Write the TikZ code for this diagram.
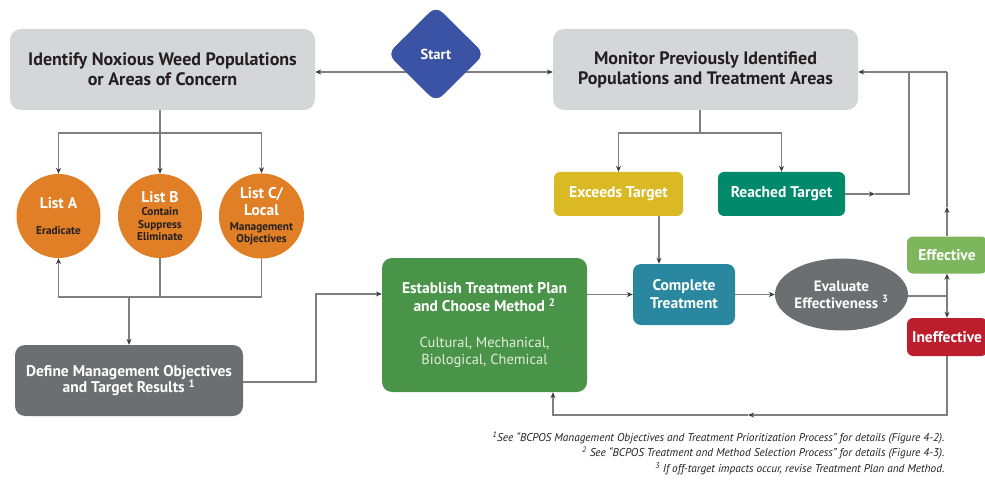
\documentclass[tikz,border=0pt]{standalone}
\usepackage{fontspec}
\setmainfont{PT Sans}
\usetikzlibrary{shapes.geometric, arrows.meta, positioning}

\definecolor{boxgray}{HTML}{D5D6D8}
\definecolor{textdark}{HTML}{231F20}
\definecolor{startblue}{HTML}{3A53A4}
\definecolor{listorange}{HTML}{E07F26}
\definecolor{defgray}{HTML}{6D6E71}
\definecolor{exyellow}{HTML}{DBB925}
\definecolor{reachteal}{HTML}{00896B}
\definecolor{compblue}{HTML}{2A87A0}
\definecolor{estgreen}{HTML}{4A9449}
\definecolor{effgreen}{HTML}{7DB65C}
\definecolor{ineffred}{HTML}{BD1E2D}
\definecolor{linegray}{HTML}{7E7F82}
\definecolor{tipdark}{HTML}{3A3A3C}
\definecolor{subtext}{HTML}{E3EDD9}

\newcommand{\listtitle}[1]{{\color{white}\fontsize{15.5}{16}\selectfont #1}}
\newcommand{\methods}[1]{{\mdseries\color{subtext}\fontsize{14.5}{17}\selectfont #1}}

\begin{document}
\begin{tikzpicture}[x=1pt, y=-1pt,
    flow/.style={draw=linegray, line width=1.1pt},
    arr/.style={flow, -{Stealth[length=6pt, width=5pt, color=tipdark]}},
    twoarr/.style={flow, {Stealth[length=6pt, width=5pt, color=tipdark]}-{Stealth[length=6pt, width=5pt, color=tipdark]}},
    bigbox/.style={rectangle, rounded corners=11pt, fill=boxgray, text=textdark, align=center,
        minimum width=305pt, minimum height=81pt, font=\fontsize{18}{20}\selectfont\bfseries},
    listcircle/.style={circle, fill=listorange, text=textdark, align=center, minimum size=84pt, inner sep=0pt,
        font=\fontsize{11.3}{12.5}\selectfont\bfseries},
    colbox/.style={rectangle, rounded corners=6pt, text=white, align=center, inner sep=0pt,
        font=\fontsize{15.5}{18}\selectfont\bfseries}]

    \useasboundingbox (0,0) rectangle (985,481);

    \node[bigbox] (ident) at (162.5,69.5) {Identify Noxious Weed Populations\\or Areas of Concern};
    \node[bigbox] (mon) at (705.5,69.5) {Monitor Previously Identified\\Populations and Treatment Areas};

    \coordinate (lv) at (0,72);
    \draw[twoarr] (ident.east |- lv) -- (mon.west |- lv);

    \node[diamond, fill=startblue, text=white, minimum width=97pt, minimum height=96pt, inner sep=0pt,
        rounded corners=9pt, font=\fontsize{14.5}{16}\selectfont\bfseries] (start) at (436,54) {Start};

    \node[listcircle] (lista) at (58.5,216) {\listtitle{List A}\\[13.5pt]Eradicate};
    \node[listcircle] (listb) at (160,216) {\listtitle{List B}\\[1pt]Contain\\Suppress\\Eliminate};
    \node[listcircle] (listc) at (261.5,216) {\listtitle{List C/}\\[3.5pt]\listtitle{Local}\\[2.5pt]Management\\[-1pt]Objectives};

    \node[colbox, fill=defgray, rounded corners=10pt, minimum width=228pt, minimum height=71pt] (define)
        at (129,380.5) {Define Management Objectives\\[-2pt]and Target Results \textsuperscript{1}};
    \node[colbox, fill=estgreen, rounded corners=10pt, minimum width=205pt, minimum height=134pt] (estab)
        at (484.5,325) {Establish Treatment Plan\\and Choose Method \textsuperscript{2}\\[18pt]
        \methods{Cultural, Mechanical,}\\[-1pt]\methods{Biological, Chemical}};
    \node[colbox, fill=exyellow, minimum width=129pt, minimum height=44pt] (exceed) at (618.5,194) {Exceeds Target};
    \node[colbox, fill=reachteal, minimum width=127pt, minimum height=44pt] (reach) at (781.5,194) {Reached Target};
    \node[colbox, fill=compblue, rounded corners=8pt, minimum width=102pt, minimum height=61pt] (complete)
        at (684,294.5) {Complete\\Treatment};
    \node[ellipse, fill=defgray, text=white, align=center, inner sep=0pt, minimum width=123pt, minimum height=72pt,
        font=\fontsize{15}{17}\selectfont\bfseries] (eval) at (841.5,294.5) {Evaluate\\Effectiveness \textsuperscript{3}};
    \node[colbox, fill=effgreen, minimum width=80pt, minimum height=37pt] (effect) at (947,255) {Effective};
    \node[colbox, fill=ineffred, minimum width=80pt, minimum height=38pt] (ineff) at (947,337) {Ineffective};

    \coordinate (i1) at (160,133);
    \draw[flow] (ident.south -| i1) -- (i1);
    \draw[arr] (i1) -| (lista.north);
    \draw[arr] (i1) -- (listb.north);
    \draw[arr] (i1) -| (listc.north);

    \coordinate (jb) at (160,297);
    \draw[flow] (listb.south) -- (jb);
    \draw[flow] (listc.south) |- (jb);
    \draw[arr] (jb) -| (lista.south);
    \draw[arr] (define.north |- jb) -- (define.north);

    \coordinate (d1) at (316,382);
    \coordinate (d2) at (316,294);
    \draw[arr] (define.east |- d1) -- (d1) -- (d2) -- (estab.west |- d2);
    \draw[arr] (estab.east |- complete) -- (complete.west);

    \coordinate (m1) at (700,133);
    \draw[flow] (mon.south -| m1) -- (m1);
    \draw[arr] (m1) -| (exceed.north);
    \draw[arr] (m1) -| (reach.north);

    \coordinate (ec) at (659,0);
    \draw[arr] (exceed.south -| ec) -- (complete.north -| ec);
    \draw[arr] (complete.east) -- (eval.west);

    \coordinate (ev) at (947,296);
    \draw[flow] (eval.east |- ev) -- (ev);
    \draw[arr] (ev) -- (effect.south);
    \draw[arr] (ev) -- (ineff.north);

    \coordinate (g1) at (875,194);
    \coordinate (g2) at (909,194);
    \coordinate (fb) at (947,72);
    \coordinate (f1) at (947,207);
    \draw[arr] (reach.east) -- (g1);
    \draw[flow] (g1) -- (g2) -- (g2 |- fb);
    \draw[arr] (effect.north) -- (f1);
    \draw[flow] (f1) -- (fb);
    \draw[arr] (fb) -- (mon.east |- fb);

    \coordinate (r1) at (947,415);
    \coordinate (r2) at (748,415);
    \coordinate (r3) at (553,415);
    \draw[arr] (ineff.south) -- (r1) -- (r2);
    \draw[arr] (r2) -- (r3) -- (estab.south -| r3);

    \node[anchor=base east, text=textdark, font=\fontsize{11.3}{13}\selectfont\itshape] (fn1) at (948,441)
        {\textsuperscript{1}See “BCPOS Management Objectives and Treatment Prioritization Process” for details (Figure 4-2).};
    \node[anchor=base east, text=textdark, font=\fontsize{11.3}{13}\selectfont\itshape] (fn2) at (948,456)
        {\textsuperscript{2} See “BCPOS Treatment and Method Selection Process” for details (Figure 4-3).};
    \node[anchor=base east, text=textdark, font=\fontsize{11.3}{13}\selectfont\itshape] (fn3) at (948,472)
        {\textsuperscript{3} If off-target impacts occur, revise Treatment Plan and Method.};
\end{tikzpicture}
\end{document}
